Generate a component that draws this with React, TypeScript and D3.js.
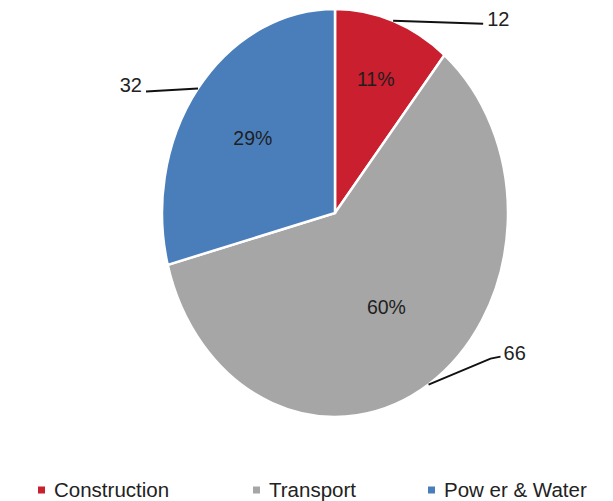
import * as d3 from "d3";

const categories = ["Construction", "Transport", "Power & Water"];
const legendNames = ["Construction", "Transport", "Pow er & Water"];
const values = [12, 66, 32];
const percentLabels = ["11%", "60%", "29%"];

const COLORS = ["#C91F2E", "#A6A6A6", "#4A7EBB"];

const W = 613;
const H = 501;
const CX = 335;
const CY = 213;
const RX = 173;
const RY = 204;

// label radius as fraction of the radius, per slice
const PCT_R = [0.7, 0.55, 0.6];
// leader line shape: offsets from the edge point (elbow, end), text anchor
const LEADERS: { pts: [number, number][]; anchor: "start" | "end"; dx: number; dy: number }[] = [
  { pts: [[90, 3]], anchor: "start", dx: 4, dy: 2 },
  { pts: [[62, -26], [72, -28]], anchor: "start", dx: 3, dy: 3 },
  { pts: [[-52, 3]], anchor: "end", dx: -4, dy: 1 },
];

const FONT = "'Liberation Sans', Arial, sans-serif";

export default function App() {
  const pie = d3.pie<number>().sort(null).value((d) => d)(values);
  const arc = d3.arc<d3.PieArcDatum<number>>().innerRadius(0).outerRadius(RY);

  const edge = (a: number): [number, number] => [CX + RX * Math.sin(a), CY - RY * Math.cos(a)];
  const at = (a: number, f: number): [number, number] => [CX + RX * f * Math.sin(a), CY - RY * f * Math.cos(a)];

  const legendX = [38, 253, 428];

  return (
    <div style={{ position: "absolute", left: 0, top: 0 }}>
      <svg width={W} height={H} style={{ display: "block", background: "#fff" }}>
        <g transform={`translate(${CX},${CY}) scale(${RX / RY},1)`}>
          {pie.map((p, i) => (
            <path
              key={i}
              d={arc(p) ?? ""}
              fill={COLORS[i]}
              stroke="#fff"
              strokeWidth={2.5}
              vectorEffect="non-scaling-stroke"
            />
          ))}
        </g>
        {pie.map((p, i) => {
          const mid = (p.startAngle + p.endAngle) / 2;
          const [x, y] = at(mid, PCT_R[i]);
          return (
            <text
              key={"p" + i}
              x={x}
              y={y}
              dy="0.36em"
              textAnchor="middle"
              fontFamily={FONT}
              fontSize={19.5}
              fill="#1e1e1e"
            >
              {percentLabels[i]}
            </text>
          );
        })}
        {pie.map((p, i) => {
          const mid = (p.startAngle + p.endAngle) / 2;
          const [ex, ey] = edge(mid);
          const L = LEADERS[i];
          const pts: [number, number][] = [[ex, ey], ...L.pts.map(([dx, dy]) => [ex + dx, ey + dy] as [number, number])];
          const last = pts[pts.length - 1];
          return (
            <g key={"l" + i}>
              <path d={d3.line()(pts) ?? ""} fill="none" stroke="#111" strokeWidth={2} />
              <text
                x={last[0] + L.dx}
                y={last[1] + L.dy}
                textAnchor={L.anchor}
                fontFamily={FONT}
                fontSize={20}
                fill="#222"
              >
                {values[i]}
              </text>
            </g>
          );
        })}
        {categories.map((c, i) => (
          <g key={c} transform={`translate(${legendX[i]},490)`}>
            <rect x={0} y={-3.5} width={7} height={7} fill={COLORS[i]} />
            <text x={16} y={7} fontFamily={FONT} fontSize={20.5} fill="#222">
              {legendNames[i]}
            </text>
          </g>
        ))}
      </svg>
    </div>
  );
}
